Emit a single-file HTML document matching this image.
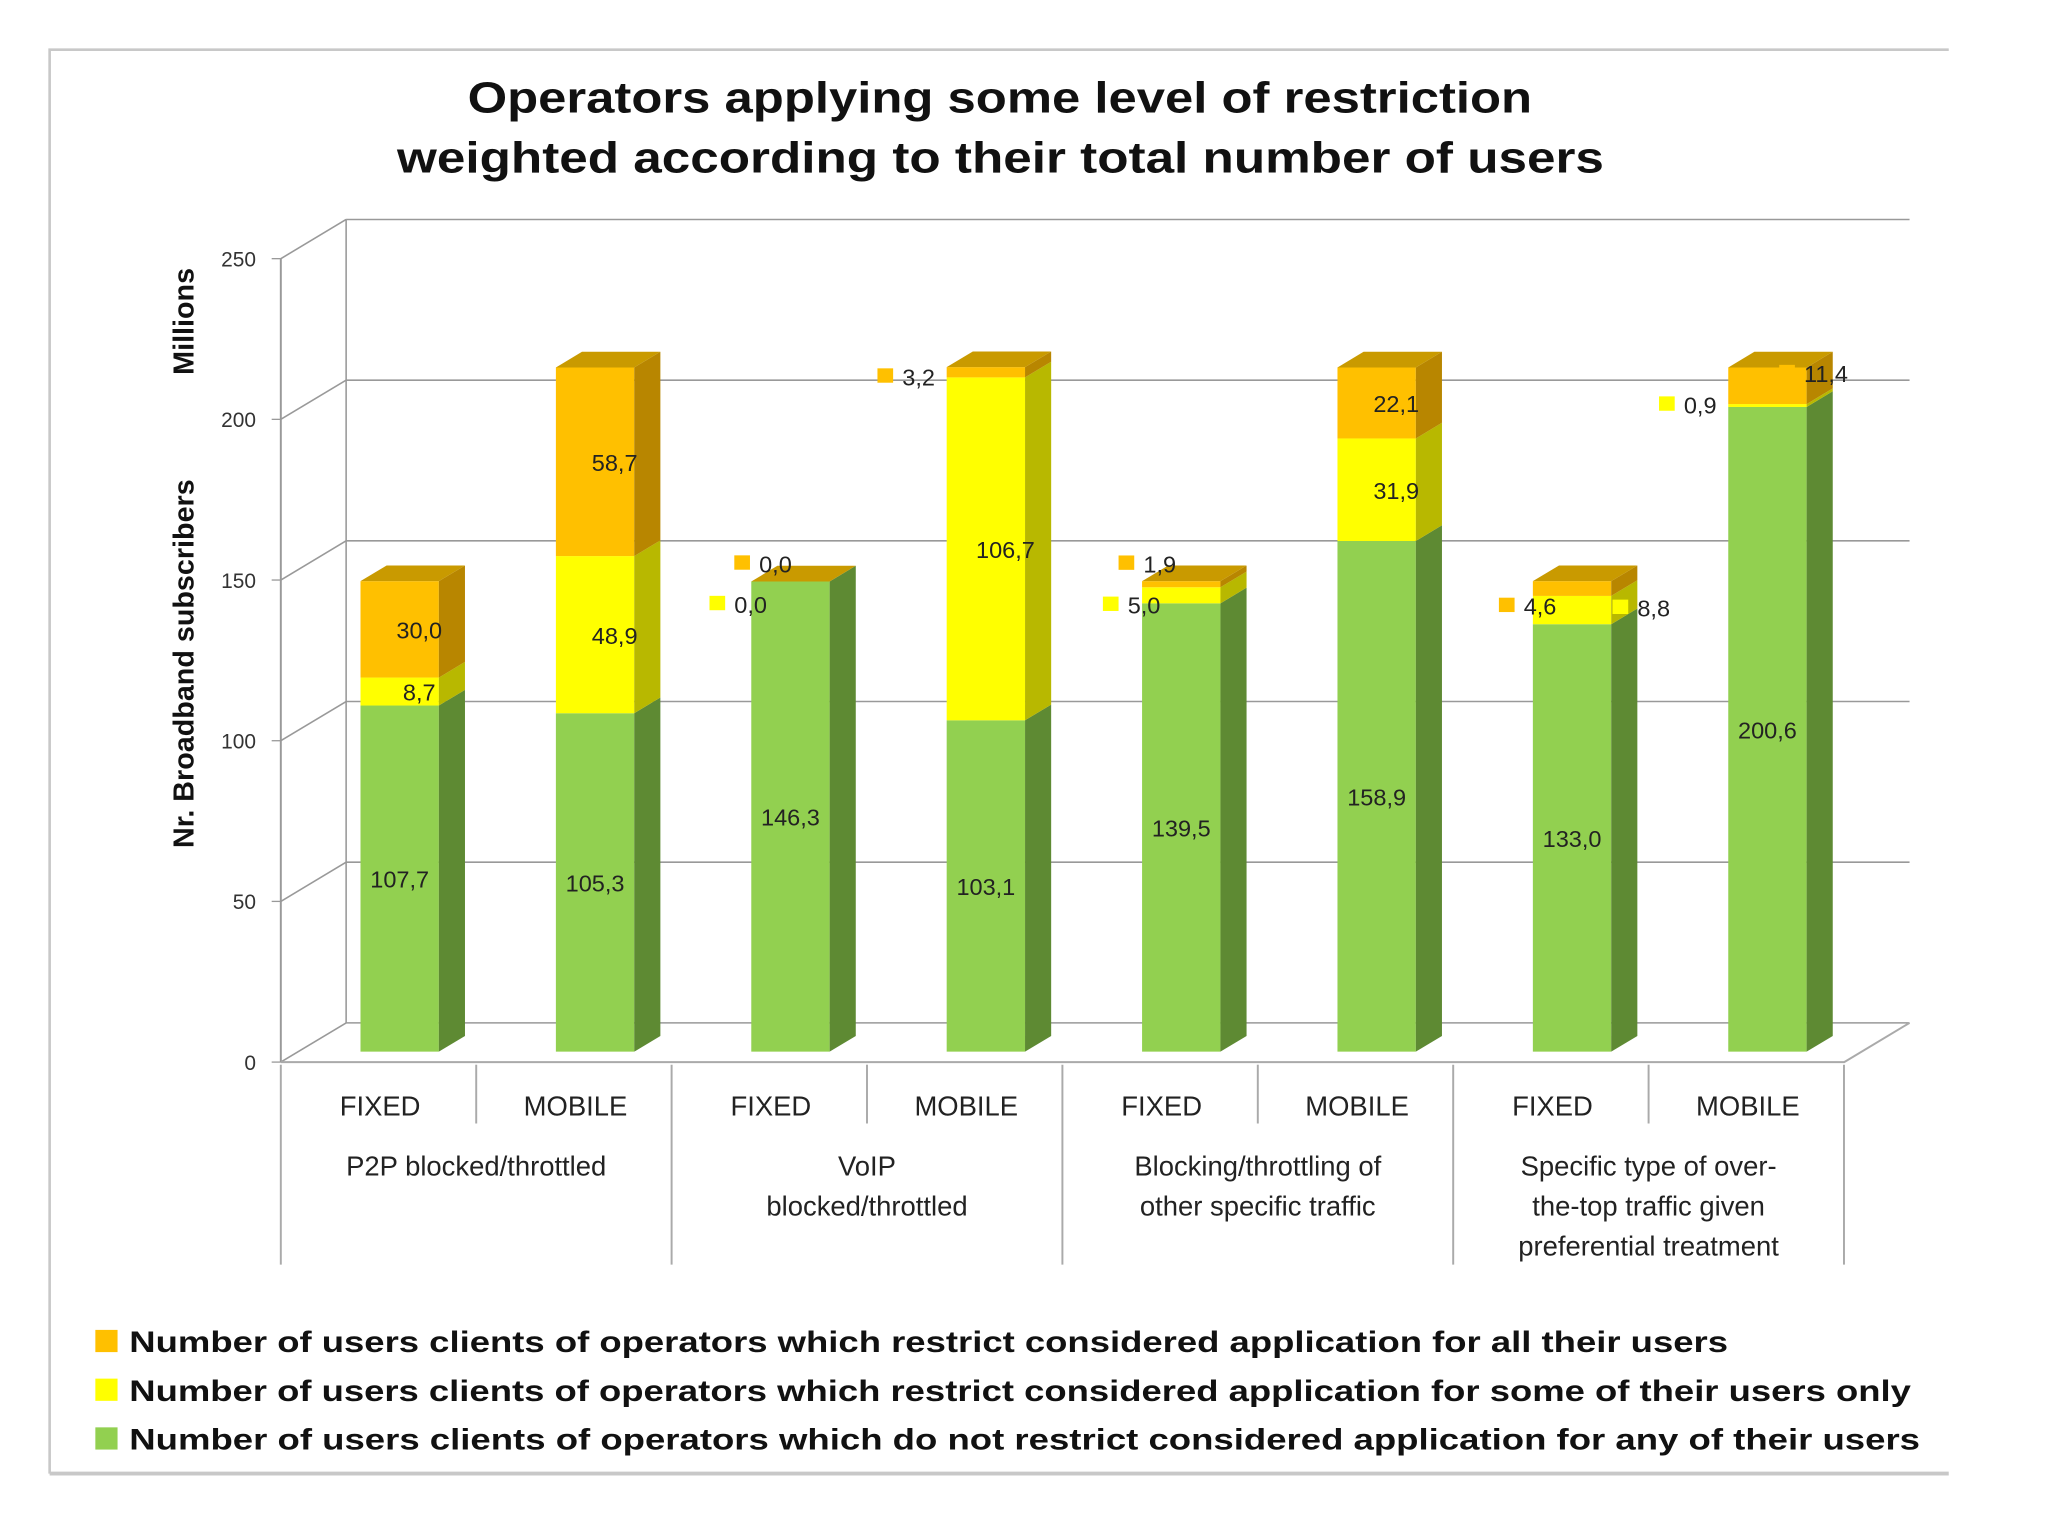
<!DOCTYPE html>
<html><head><meta charset="utf-8"><style>
html,body{margin:0;padding:0;background:#fff;}
svg{display:block;font-family:"Liberation Sans",sans-serif;}
</style></head><body>
<svg id="chart" width="2048" height="1535" viewBox="0 0 1568 1175" preserveAspectRatio="none" xmlns="http://www.w3.org/2000/svg">
<rect x="0" y="0" width="1568" height="1175" fill="#fff"/>
<path d="M38,1128 L38,38 L1492,38" fill="none" stroke="#c8c8c8" stroke-width="2"/>
<line x1="38" y1="1128" x2="1492" y2="1128" stroke="#c8c8c8" stroke-width="3"/>
<text x="358" y="86" font-size="33" font-weight="bold" fill="#111" textLength="815" lengthAdjust="spacingAndGlyphs">Operators applying some level of restriction</text>
<text x="304" y="132" font-size="33" font-weight="bold" fill="#111" textLength="924" lengthAdjust="spacingAndGlyphs">weighted according to their total number of users</text>
<text transform="translate(148,508) rotate(-90)" text-anchor="middle" font-size="22" font-weight="bold" fill="#111">Nr. Broadband subscribers</text>
<text transform="translate(148,246) rotate(-90)" text-anchor="middle" font-size="22" font-weight="bold" fill="#111">Millions</text>
<g id="axes"></g>
<g id="bars"></g>
<g id="labels"></g>
<g id="xaxis"></g>
<g id="legend"></g>
</svg>
<script>
const categories = ["FIXED","MOBILE","FIXED","MOBILE","FIXED","MOBILE","FIXED","MOBILE"];
const groups = [["P2P blocked/throttled"],["VoIP","blocked/throttled"],["Blocking/throttling of","other specific traffic"],["Specific type of over-","the-top traffic given","preferential treatment"]];
const greenValues = [107.7,105.3,146.3,103.1,139.5,158.9,133.0,200.6];
const yellowValues = [8.7,48.9,0.0,106.7,5.0,31.9,8.8,0.9];
const orangeValues = [30.0,58.7,0.0,3.2,1.9,22.1,4.6,11.4];
const yTicks = [0,50,100,150,200,250];
const legendLabels = ["Number of users clients of operators which restrict considered application for all their users","Number of users clients of operators which restrict considered application for some of their users only","Number of users clients of operators which do not restrict considered application for any of their users"];

const NS="http://www.w3.org/2000/svg";
function mk(tag,attrs,parent){const e=document.createElementNS(NS,tag);for(const k in attrs)e.setAttribute(k,attrs[k]);parent.appendChild(e);return e;}
const axes=document.getElementById('axes'),bars=document.getElementById('bars'),labels=document.getElementById('labels'),xaxis=document.getElementById('xaxis'),legend=document.getElementById('legend');
const axisY0=813, axisPx=123/50, barBase=805, DX=50, DY=-30;
function yAxis(v){return axisY0-v*axisPx;}
function yBar(v){return barBase-v*axisPx;}
function xCenter(i){return 306+i*149.6;}
const BW=60, BDX=20, BDY=-12;

mk('line',{x1:215,y1:axisY0,x2:215,y2:yAxis(250),stroke:'#999','stroke-width':1.5},axes);
yTicks.forEach(t=>{
  const y=yAxis(t);
  const g=mk('line',{x1:215,y1:y,x2:215+DX,y2:y+DY,stroke:'#999','stroke-width':1.2},axes);
  
  
  const l=mk('line',{x1:215+DX,y1:y+DY,x2:1462,y2:y+DY,stroke:'#999','stroke-width':1.2},axes);
  
  
  mk('line',{x1:208,y1:y,x2:215,y2:y,stroke:'#999'},axes);
  const tx=mk('text',{x:196,y:y+6,'text-anchor':'end','font-size':16,fill:'#333'},axes);
  tx.textContent=t;
  
  
});
mk('line',{x1:265,y1:yAxis(0)+DY,x2:265,y2:yAxis(250)+DY,stroke:'#999','stroke-width':1.2},axes);
mk('path',{d:`M215,${axisY0} L1412,${axisY0} L1462,${axisY0+DY}`,fill:'none',stroke:'#aaa','stroke-width':1.5},axes);

const series=[
 {vals:greenValues,front:'#92d050',side:'#5e8a33',top:'#a9dc70',name:'green'},
 {vals:yellowValues,front:'#ffff00',side:'#b8b800',top:'#e8e800',name:'yellow'},
 {vals:orangeValues,front:'#ffc000',side:'#b88600',top:'#c99a00',name:'orange'}];

categories.forEach((c,i)=>{
  let cum=0;
  const x0=xCenter(i)-BW/2;
  const total=greenValues[i]+yellowValues[i]+orangeValues[i];
  series.forEach((s,si)=>{
    const v=s.vals[i]; const yb=yBar(cum), yt=yBar(cum+v); cum+=v;
    if(v<=0)return;
    const f=mk('rect',{x:x0,y:yt,width:BW,height:yb-yt,fill:s.front},bars);
    
    
    mk('polygon',{points:`${x0+BW},${yb} ${x0+BW+BDX},${yb+BDY} ${x0+BW+BDX},${yt+BDY} ${x0+BW},${yt}`,fill:s.side},bars);
  });
  const ts=series[2];
  const yt=yBar(total);
  mk('polygon',{points:`${x0},${yt} ${x0+BDX},${yt+BDY} ${x0+BW+BDX},${yt+BDY} ${x0+BW},${yt}`,fill:ts.top},bars);
});

const outside={"2-2":[-37,-14],"2-1":[-56,17],"3-2":[-77,3],"4-2":[-42,-16],"4-1":[-54,7],"6-2":[-50,13],"6-1":[37,-2],"7-2":[15,-10],"7-1":[-77,-1]};
categories.forEach((c,i)=>{
  let cum=0;
  series.forEach((s,si)=>{
    const v=s.vals[i]; const mid=yBar(cum+v/2); cum+=v;
    const key=i+'-'+si; const txt=v.toFixed(1).replace('.',',');
    if(outside[key]){
      const [dx,dy]=outside[key]; const mx=xCenter(i)+dx, my=mid+dy;
      mk('rect',{x:mx-6,y:my-6,width:12,height:11,fill:s.front},labels);
      const t=mk('text',{x:mx+13,y:my+7,'font-size':18,fill:'#222'},labels);
      t.textContent=txt;
      
      
    } else {
      const t=mk('text',{x:xCenter(i)+(si===0?0:15),y:mid+7,'text-anchor':'middle','font-size':18,fill:'#222'},labels);
      t.textContent=txt;
      
      
    }
  });
});

for(let k=0;k<=8;k++){
  const x=215+k*149.6; const long=k%2===0;
  mk('line',{x1:x,y1:815,x2:x,y2:long?968:860,stroke:'#aaa','stroke-width':1.5},xaxis);
}
categories.forEach((c,i)=>{
  const t=mk('text',{x:xCenter(i)-15,y:854,'text-anchor':'middle','font-size':21,fill:'#222'},xaxis);
  t.textContent=c;
  
  
});
groups.forEach((g,j)=>{
  const cx=215+149.6*(2*j+1);
  g.forEach((line,li)=>{
    const t=mk('text',{x:cx,y:900+li*30.5,'text-anchor':'middle','font-size':21,fill:'#222'},xaxis);
    t.textContent=line;
    
    
  });
});

const legColors=['#ffc000','#ffff00','#92d050'];
legendLabels.forEach((l,i)=>{
  const y=1027+i*37.3;
  mk('rect',{x:73,y:y-9,width:17,height:17,fill:legColors[i]},legend);
  const t=mk('text',{x:99,y:y+8,'font-size':22.5,'font-weight':'bold',fill:'#111',textLength:[1224,1364,1371][i],lengthAdjust:'spacingAndGlyphs'},legend);
  t.textContent=l;
  
  
});
</script>
</body></html>
